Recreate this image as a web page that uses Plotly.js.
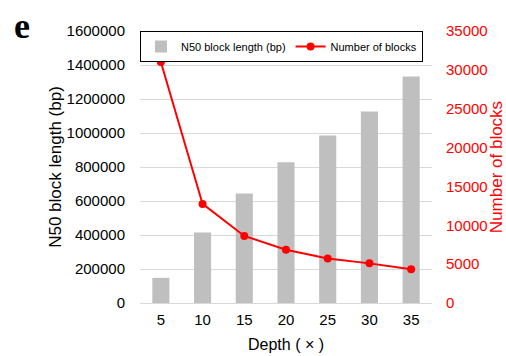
<!DOCTYPE html>
<html>
<head>
<meta charset="utf-8">
<script src="https://cdn.plot.ly/plotly-3.0.1.min.js"></script>
<style>html,body{margin:0;padding:0;background:#fff;}#chart{width:506px;height:356px;}</style>
</head>
<body>
<div id="chart"></div>
<script>
const depth = ['5', '10', '15', '20', '25', '30', '35'];
const n50Length = [148000, 415000, 644000, 828000, 986000, 1127000, 1333000];
const numBlocks = [31000, 12750, 8630, 6860, 5740, 5100, 4330];
const leftTicks = [0, 200000, 400000, 600000, 800000, 1000000, 1200000, 1400000, 1600000];
const rightTicks = [0, 5000, 10000, 15000, 20000, 25000, 30000, 35000];

const FONT = 'Arial, "Liberation Sans", sans-serif';

const traces = [
  {
    type: 'bar', x: depth, y: n50Length, name: 'N50 block length (bp)',
    marker: {color: '#bfbfbf'}, yaxis: 'y'
  },
  {
    type: 'scatter', mode: 'lines+markers', x: depth, y: numBlocks, name: 'Number of blocks',
    line: {color: '#ff0000', width: 2}, marker: {color: '#ff0000', size: 8}, yaxis: 'y2'
  }
];

const layout = {
  width: 506, height: 356,
  margin: {l: 140, r: 74, t: 31, b: 53},
  paper_bgcolor: '#ffffff', plot_bgcolor: '#ffffff',
  font: {family: FONT, color: '#000000', size: 15},
  bargap: 0.59,
  showlegend: true,
  legend: {
    orientation: 'h', x: 0, xanchor: 'left', y: 1, yanchor: 'top',
    bgcolor: '#ffffff', bordercolor: '#000000', borderwidth: 1,
    font: {family: FONT, size: 11, color: '#000000'},
    traceorder: 'normal', itemwidth: 30
  },
  xaxis: {
    type: 'category', showgrid: false, showline: true, linecolor: '#d9d9d9', linewidth: 1,
    ticks: '', tickfont: {size: 15}, ticklabelstandoff: 3,
    title: {text: 'Depth ( \u00d7 )', font: {size: 16}, standoff: 11}
  },
  yaxis: {
    range: [0, 1600000], tickvals: leftTicks, ticktext: leftTicks.map(String),
    showgrid: true, gridcolor: '#d9d9d9', gridwidth: 1, zeroline: false, showline: false,
    ticks: '', tickfont: {size: 15}, ticklabelstandoff: 14,
    title: {text: 'N50 block length (bp)', font: {size: 17}, standoff: 0}
  },
  yaxis2: {
    overlaying: 'y', side: 'right',
    range: [0, 35000], tickvals: rightTicks, ticktext: rightTicks.map(String),
    showgrid: false, zeroline: false, showline: false,
    ticks: '', tickfont: {size: 15, color: '#ff0000'}, ticklabelstandoff: 13,
    title: {text: 'Number of blocks', font: {size: 17, color: '#ff0000'}, standoff: 5}
  },
  annotations: [
    {text: '<b>e</b>', xref: 'paper', yref: 'paper', x: -0.44, y: 1.1, xanchor: 'left', yanchor: 'top',
     showarrow: false, font: {family: '"Liberation Serif", "Times New Roman", serif', size: 36, color: '#000'}}
  ]
};

Plotly.newPlot('chart', traces, layout, {displayModeBar: false, staticPlot: true});
</script>
</body>
</html>
